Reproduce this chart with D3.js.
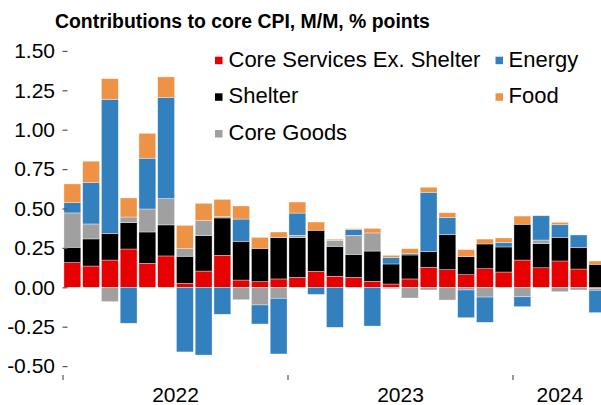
<!DOCTYPE html>
<html>
<head>
<meta charset="utf-8">
<script src="https://cdn.jsdelivr.net/npm/d3@7"></script>
<style>
  body { margin: 0; background: #fff; }
  svg { display: block; font-family: "Liberation Sans", Arial, sans-serif; }
</style>
</head>
<body>
<div id="chart"></div>
<script>
// monthly contributions, Jan 2022 .. May 2024
var months = ["2022-01","2022-02","2022-03","2022-04","2022-05","2022-06","2022-07","2022-08","2022-09","2022-10","2022-11","2022-12",
              "2023-01","2023-02","2023-03","2023-04","2023-05","2023-06","2023-07","2023-08","2023-09","2023-10","2023-11","2023-12",
              "2024-01","2024-02","2024-03","2024-04","2024-05"];
var coreServices = [0.157,0.135,0.173,0.243,0.152,0.199,0.025,0.103,0.203,0.046,0.036,0.053,
                    0.063,0.101,0.070,0.063,0.038,0.021,0.053,0.127,0.112,0.080,0.118,0.097,
                    0.173,0.124,0.167,0.116,-0.007];
var shelter = [0.097,0.172,0.168,0.167,0.199,0.197,0.172,0.225,0.237,0.246,0.211,0.262,
               0.252,0.261,0.190,0.146,0.192,0.127,0.152,0.099,0.222,0.114,0.157,0.159,
               0.227,0.153,0.150,0.136,0.146];
var coreGoods = [0.218,0.095,-0.091,0.036,0.146,0.167,0.048,0.095,0.008,-0.079,-0.112,-0.070,
                 0.015,0,0.038,0.121,0.115,-0.009,-0.068,-0.017,-0.081,-0.017,-0.062,0,
                 -0.060,0.023,-0.028,-0.017,-0.012];
var energy = [0.065,0.262,0.852,-0.228,0.322,0.640,-0.410,-0.430,-0.171,0.141,-0.121,-0.353,
              0.141,-0.045,-0.254,0.038,-0.246,0.042,0.008,0.377,0.108,-0.176,-0.160,0.029,
              -0.063,0.154,0.080,0.080,-0.142];
var food = [0.119,0.136,0.131,0.121,0.158,0.132,0.148,0.110,0.110,0.083,0.070,0.036,
            0.070,0.052,0.007,0.004,0.029,0.013,0.032,0.032,0.031,0.045,0.031,0.028,
            0.052,0,0.015,0,0.021];
var seriesNames = ["Core Services Ex. Shelter","Shelter","Core Goods","Energy","Food"];
var seriesColors = ["#e60000","#000000","#a0a0a0","#3380bf","#ee9346"];
var yTicks = [-0.5,-0.25,0,0.25,0.5,0.75,1,1.25,1.5];
var years = ["2022","2023","2024"];

var width = 601, height = 405;

var svg = d3.select("#chart").append("svg")
  .attr("width", width)
  .attr("height", height);

// build rows for the stack
var seriesValues = [coreServices, shelter, coreGoods, energy, food];
var rows = months.map(function(m, i) {
  var r = {month: m};
  seriesNames.forEach(function(s, j) { r[s] = seriesValues[j][i]; });
  return r;
});

var stack = d3.stack()
  .keys(seriesNames)
  .offset(d3.stackOffsetDiverging);
var layers = stack(rows);

var x = d3.scaleBand()
  .domain(months)
  .range([63, 606.75])
  .paddingInner(0.1)
  .paddingOuter(0.05);

var y = d3.scaleLinear()
  .domain([-0.5, 1.5])
  .range([366.1, 50.9]);

var color = d3.scaleOrdinal().domain(seriesNames).range(seriesColors);

// bars
svg.append("g")
  .selectAll("g")
  .data(layers)
  .enter().append("g")
  .attr("fill", function(d) { return color(d.key); })
  .selectAll("rect")
  .data(function(d) { return d; })
  .enter().append("rect")
  .attr("x", function(d) { return x(d.data.month); })
  .attr("width", x.bandwidth())
  .attr("y", function(d) { return y(Math.max(d[0], d[1])); })
  .attr("height", function(d) { return Math.abs(y(d[0]) - y(d[1])); })
  .attr("stroke", "#fff")
  .attr("stroke-width", 0.6)
  .attr("stroke-opacity", 0.6);

// y axis
var yAxis = svg.append("g")
  .attr("transform", "translate(67.5,0)")
  .call(d3.axisLeft(y).tickValues(yTicks).tickSize(5).tickPadding(7.5)
    .tickFormat(function(d) { return d.toFixed(2); }));
yAxis.select(".domain").remove();
yAxis.selectAll(".tick line").attr("stroke", "#555").attr("stroke-width", 1.2);
yAxis.selectAll(".tick text")
  .attr("font-size", 21)
  .attr("fill", "#000")
  .attr("font-family", "Liberation Sans, Arial, sans-serif");

// x axis: ticks at year starts, labels centred over each year's bars
var step = x.step();
var xg = svg.append("g");
years.forEach(function(yr) {
  var ms = months.filter(function(m) { return m.slice(0, 4) === yr; });
  var x0 = x(ms[0]) - step * 0.05;
  var x1 = x(ms[ms.length - 1]) + x.bandwidth() + step * 0.05;
  xg.append("line")
    .attr("x1", x0).attr("x2", x0)
    .attr("y1", 375).attr("y2", 380)
    .attr("stroke", "#555")
    .attr("stroke-width", 1.2);
  xg.append("text")
    .attr("x", (x0 + x1) / 2)
    .attr("y", 401.5)
    .attr("text-anchor", "middle")
    .attr("font-size", 21)
    .text(yr);
});

// title
svg.append("text")
  .attr("x", 55)
  .attr("y", 28)
  .attr("font-size", 19.4)
  .attr("font-weight", "bold")
  .text("Contributions to core CPI, M/M, % points");

// legend
var legendPos = [
  {sx: 215, tx: 228.5, base: 66.7},
  {sx: 215, tx: 228.5, base: 103.3},
  {sx: 215, tx: 228.5, base: 140},
  {sx: 495.5, tx: 508.5, base: 66.7},
  {sx: 495.5, tx: 508.5, base: 103.3}
];
var legendOrder = ["Core Services Ex. Shelter","Shelter","Core Goods","Energy","Food"];
var legend = svg.append("g");
legendOrder.forEach(function(name, i) {
  var p = legendPos[i];
  legend.append("rect")
    .attr("x", p.sx)
    .attr("y", p.base - 10)
    .attr("width", 7.5)
    .attr("height", 7.5)
    .attr("fill", color(name));
  legend.append("text")
    .attr("x", p.tx)
    .attr("y", p.base)
    .attr("font-size", 22)
    .text(name);
});
</script>
</body>
</html>
